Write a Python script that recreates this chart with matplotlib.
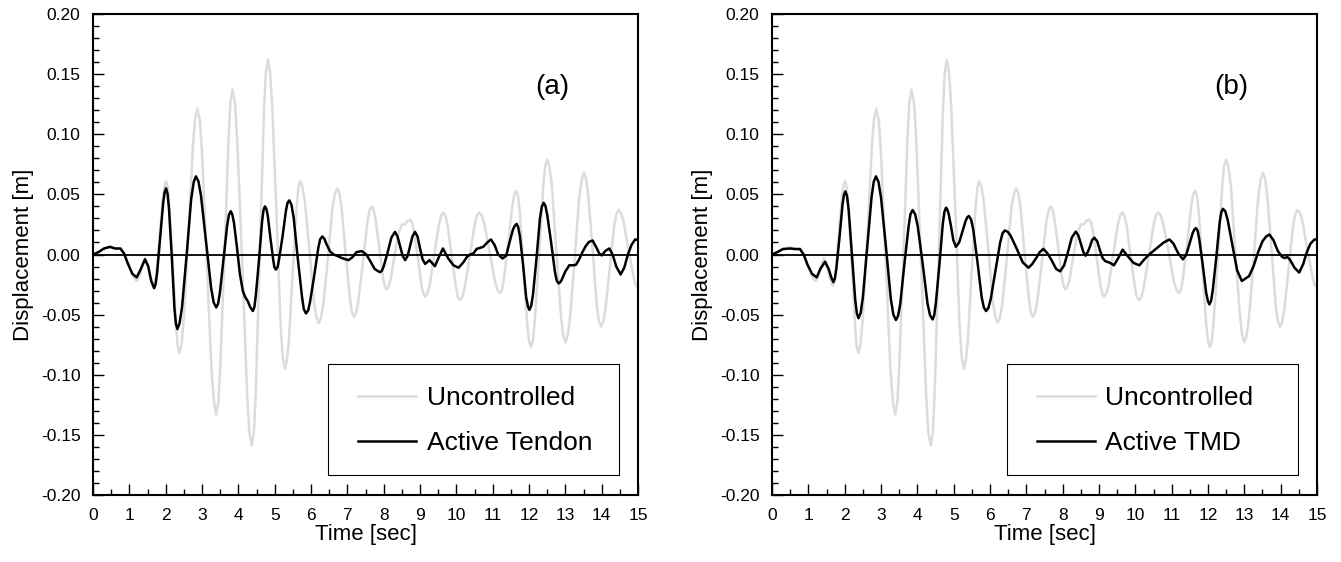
import matplotlib
matplotlib.use("Agg")
import matplotlib.pyplot as plt
from matplotlib.patches import Rectangle
from matplotlib.ticker import MultipleLocator, FormatStrFormatter

plt.rcParams['font.family'] = ['Liberation Sans', 'DejaVu Sans']

# uncontrolled response (same in both panels)
t_unc = [0.00, 0.15, 0.30, 0.50, 0.65, 0.78, 0.90, 1.02, 1.12, 1.20, 1.28, 1.36, 1.43, 1.50, 1.58, 1.67,
         1.71, 1.755, 1.84, 1.925, 1.97, 2.01, 2.06, 2.10, 2.20, 2.29, 2.33, 2.38,
         2.44, 2.50, 2.63, 2.75, 2.81, 2.87, 2.94, 3.00, 3.13, 3.26, 3.33, 3.39,
         3.45, 3.50, 3.62, 3.73, 3.78, 3.84, 3.91, 3.97, 4.11, 4.24, 4.30, 4.37,
         4.43, 4.48, 4.59, 4.70, 4.75, 4.81, 4.87, 4.93, 5.05, 5.16, 5.22, 5.28,
         5.33, 5.39, 5.49, 5.60, 5.65, 5.70, 5.76, 5.83, 5.96, 6.08, 6.15, 6.21,
         6.27, 6.34, 6.47, 6.59, 6.66, 6.72, 6.78, 6.84, 6.95, 7.07, 7.12, 7.18,
         7.24, 7.30, 7.43, 7.55, 7.61, 7.67, 7.72, 7.77, 7.88, 7.98, 8.03, 8.08,
         8.13, 8.19, 8.29, 8.40, 8.50, 8.58, 8.66, 8.73, 8.78, 8.83, 8.94, 9.04, 9.09, 9.14,
         9.20, 9.27, 9.39, 9.52, 9.58, 9.64, 9.70, 9.76, 9.87, 9.99, 10.04, 10.10,
         10.17, 10.23, 10.37, 10.50, 10.56, 10.63, 10.70, 10.77, 10.92, 11.06, 11.13, 11.20,
         11.26, 11.31, 11.43, 11.54, 11.59, 11.65, 11.70, 11.75, 11.85, 11.95, 12.00, 12.05,
         12.11, 12.16, 12.28, 12.39, 12.44, 12.50, 12.56, 12.63, 12.75, 12.88, 12.94, 13.00,
         13.06, 13.13, 13.26, 13.38, 13.45, 13.51, 13.57, 13.63, 13.75, 13.86, 13.92, 13.98,
         14.04, 14.10, 14.22, 14.34, 14.40, 14.46, 14.53, 14.60, 14.73, 14.87, 14.93, 15.00]
d_unc = [0.000, 0.002, 0.005, 0.006, 0.005, 0.005, -0.002, -0.012, -0.019, -0.022, -0.018, -0.008, -0.003, -0.008, -0.019, -0.026,
         -0.0227, -0.013, 0.0175, 0.048, 0.0577, 0.061, 0.0556, 0.040, -0.0105, -0.061, -0.0766, -0.082,
         -0.0743, -0.052, 0.0195, 0.091, 0.1133, 0.121, 0.1113, 0.084, -0.006, -0.096, -0.1233, -0.133,
         -0.1227, -0.094, 0.002, 0.098, 0.1267, 0.137, 0.1258, 0.094, -0.011, -0.116, -0.1478, -0.159,
         -0.1468, -0.112, 0.0015, 0.115, 0.1498, 0.162, 0.1522, 0.1245, 0.0335, -0.0575, -0.0852, -0.095,
         -0.0891, -0.072, -0.017, 0.038, 0.0551, 0.061, 0.0565, 0.044, 0.002, -0.040, -0.0525, -0.057,
         -0.0527, -0.041, -0.001, 0.039, 0.0507, 0.055, 0.0509, 0.039, 0.0015, -0.036, -0.0479, -0.052,
         -0.0485, -0.039, -0.006, 0.027, 0.0365, 0.040, 0.0374, 0.030, 0.0055, -0.019, -0.0264, -0.029,
         -0.0269, -0.021, -0.002, 0.017, 0.025, 0.025, 0.028, 0.029, 0.0266, 0.0197, -0.003, -0.0257, -0.0326, -0.035,
         -0.0323, -0.0248, 0.000, 0.0248, 0.0323, 0.035, 0.0322, 0.0243, -0.0015, -0.0273, -0.0352, -0.038,
         -0.0352, -0.0273, -0.0015, 0.0243, 0.0322, 0.035, 0.0325, 0.0252, 0.0015, -0.0222, -0.0295, -0.032,
         -0.0288, -0.0196, 0.0105, 0.0406, 0.0498, 0.053, 0.0481, 0.034, -0.012, -0.058, -0.0721, -0.077,
         -0.0711, -0.054, 0.001, 0.056, 0.0731, 0.079, 0.0732, 0.057, 0.003, -0.051, -0.0672, -0.073,
         -0.0676, -0.052, -0.0025, 0.047, 0.0626, 0.068, 0.0631, 0.049, 0.004, -0.041, -0.0551, -0.060,
         -0.0563, -0.046, -0.0115, 0.023, 0.0333, 0.037, 0.0346, 0.0277, 0.005, -0.0177, -0.025, -0.027]

# (a) active tendon
t_ten = [0.00, 0.15, 0.30, 0.47, 0.60, 0.75, 0.85, 0.95, 1.08, 1.20, 1.30, 1.43, 1.52, 1.60, 1.68,
         1.72, 1.76, 1.845, 1.93, 1.97, 2.01, 2.05, 2.09, 2.17, 2.24, 2.28, 2.32, 2.38, 2.45, 2.58, 2.70, 2.77, 2.83,
         2.90, 2.97, 3.11, 3.25, 3.32, 3.39, 3.44, 3.49, 3.59, 3.69, 3.74, 3.79, 3.835, 3.88, 3.96, 4.04, 4.12,
         4.18, 4.26, 4.33, 4.40, 4.44, 4.48, 4.57, 4.65, 4.69, 4.73, 4.77, 4.81, 4.88, 4.96, 4.99, 5.03, 5.08,
         5.12, 5.22, 5.31, 5.35, 5.40, 5.46, 5.52, 5.63, 5.75, 5.80, 5.86, 5.92, 5.97, 6.09, 6.20, 6.25, 6.31, 6.37,
         6.42, 6.52, 6.62, 6.71, 6.85, 7.03, 7.15, 7.25, 7.40, 7.52, 7.62, 7.75, 7.84, 7.90, 7.95, 8.00, 8.11, 8.21,
         8.31, 8.38, 8.45, 8.52, 8.59, 8.66, 8.725, 8.79, 8.86, 8.93, 9.00, 9.07, 9.14, 9.26, 9.41, 9.52, 9.63,
         9.78, 9.92, 10.06, 10.18, 10.29, 10.38, 10.47, 10.56, 10.65, 10.74, 10.85, 10.95, 11.05, 11.15, 11.27,
         11.37, 11.47, 11.56, 11.61, 11.66, 11.70, 11.75, 11.84, 11.92, 11.97, 12.01, 12.06, 12.11, 12.21, 12.30,
         12.35, 12.40, 12.45, 12.50, 12.61, 12.71, 12.76, 12.81, 12.855, 12.90, 13.00, 13.11, 13.20, 13.29, 13.38,
         13.47, 13.56, 13.65, 13.75, 13.85, 13.93, 14.00, 14.10, 14.21, 14.30, 14.40, 14.52, 14.62, 14.72, 14.82,
         14.92, 15.00]
d_ten = [0.000, 0.002, 0.005, 0.0064, 0.005, 0.005, 0.001, -0.007, -0.016, -0.019, -0.013, -0.004, -0.010, -0.022, -0.028,
         -0.0248, -0.016, 0.0135, 0.043, 0.0518, 0.055, 0.0506, 0.038, -0.0035, -0.045, -0.0576, -0.062, -0.0572, -0.0435, 0.0015, 0.046, 0.0602, 0.065,
         0.0609, 0.049, 0.0105, -0.028, -0.0399, -0.044, -0.041, -0.032, -0.004, 0.024, 0.033, 0.036, 0.033, 0.026, 0.006, -0.016, -0.030,
         -0.035, -0.039, -0.044, -0.047, -0.0437, -0.034, -0.0035, 0.027, 0.0367, 0.040, 0.038, 0.032, 0.014, -0.0048, -0.0105, -0.0125, -0.0103,
         -0.004, 0.016, 0.0366, 0.0428, 0.045, 0.0414, 0.031, -0.002, -0.035, -0.0454, -0.049, -0.0466, -0.0397, -0.017, 0.0057, 0.0126, 0.015, 0.0128,
         0.009, 0.0027, 0.000, -0.001, -0.003, -0.0047, -0.002, 0.002, 0.0028, 0.000, -0.005, -0.012, -0.0138, -0.0147, -0.0135, -0.0098, 0.002, 0.014,
         0.0188, 0.015, 0.007, -0.001, -0.0047, -0.001, 0.007, 0.015, 0.0188, 0.015, 0.005, -0.004, -0.0078, -0.0047, -0.0097, -0.002, 0.005,
         -0.0035, -0.009, -0.011, -0.007, -0.002, 0.000, 0.001, 0.0047, 0.0055, 0.0064, 0.010, 0.0125, 0.008, 0.000, -0.0033,
         -0.001, 0.011, 0.021, 0.024, 0.0255, 0.0228, 0.015, -0.010, -0.0356, -0.0433, -0.046, -0.0426, -0.033, -0.0015, 0.030,
         0.0396, 0.043, 0.0405, 0.033, 0.0095, -0.014, -0.0215, -0.024, -0.0232, -0.021, -0.014, -0.0089, -0.009, -0.0086, -0.004,
         0.002, 0.007, 0.0105, 0.0116, 0.006, 0.001, -0.0008, 0.003, 0.005, 0.000, -0.010, -0.0166, -0.011, 0.000, 0.008,
         0.0125, 0.012]

# (b) active TMD
t_tmd = [0.00, 0.15, 0.30, 0.50, 0.65, 0.77, 0.87, 0.97, 1.10, 1.23, 1.33, 1.46, 1.56, 1.63, 1.69,
         1.73, 1.77, 1.86, 1.94, 1.98, 2.02, 2.065, 2.11, 2.20, 2.29, 2.335, 2.38, 2.44, 2.50, 2.62, 2.74, 2.80, 2.86,
         2.93, 3.00, 3.14, 3.27, 3.34, 3.41, 3.47, 3.53, 3.64, 3.76, 3.81, 3.87, 3.94, 4.01, 4.15, 4.28, 4.35, 4.42,
         4.465, 4.51, 4.61, 4.70, 4.745, 4.79, 4.825, 4.86, 4.93, 4.99, 5.06, 5.15, 5.24, 5.33, 5.375, 5.42, 5.48,
         5.54, 5.66, 5.77, 5.83, 5.89, 5.955, 6.02, 6.15, 6.28, 6.345, 6.41, 6.49, 6.57, 6.74, 6.90, 7.06,
         7.16, 7.27, 7.37, 7.47, 7.58, 7.70, 7.82, 7.93, 8.04, 8.15, 8.25, 8.36,
         8.43, 8.50, 8.57, 8.63, 8.69, 8.75, 8.81, 8.87, 8.95, 9.02, 9.10, 9.17,
         9.31, 9.41, 9.53, 9.65, 9.78, 9.95, 10.11, 10.25, 10.38, 10.50, 10.62, 10.78, 10.94,
         11.05, 11.18, 11.31, 11.40, 11.49, 11.58, 11.625, 11.67, 11.715, 11.76, 11.86, 11.95, 12.00, 12.04,
         12.085, 12.13, 12.23, 12.32, 12.365, 12.41, 12.475, 12.54, 12.67, 12.80, 12.93, 13.03, 13.13, 13.25, 13.38,
         13.50, 13.60, 13.69, 13.80, 13.92, 14.04, 14.12, 14.18, 14.25, 14.38, 14.51,
         14.62, 14.72, 14.82, 14.93, 15.00]
d_tmd = [0.000, 0.002, 0.0045, 0.005, 0.0045, 0.0045, 0.000, -0.008, -0.016, -0.019, -0.012, -0.006, -0.012, -0.019, -0.023,
         -0.020, -0.012, 0.015, 0.0415, 0.0496, 0.0525, 0.0485, 0.037, 0.000, -0.0376, -0.049, -0.053, -0.0485, -0.0358, 0.006, 0.0478, 0.0605, 0.065,
         0.0605, 0.0475, 0.005, -0.037, -0.050, -0.0545, -0.051, -0.041, -0.009, 0.0236, 0.0335, 0.037, 0.0335, 0.0237, -0.0085, -0.0407, -0.0506, -0.054,
         -0.0505, -0.0404, -0.0075, 0.0254, 0.0355, 0.039, 0.0375, 0.034, 0.023, 0.012, 0.0064, 0.010, 0.019, 0.028, 0.031, 0.032, 0.029,
         0.0205, -0.0075, -0.0355, -0.044, -0.047, -0.0445, -0.037, -0.0135, 0.010, 0.0177, 0.020, 0.0188, 0.0155, 0.0045, -0.0065, -0.011,
         -0.008, -0.003, 0.002, 0.0047, 0.001, -0.005, -0.012, -0.014, -0.009, 0.0025, 0.014, 0.019,
         0.016, 0.009, 0.002, -0.001, 0.002, 0.0065, 0.012, 0.014, 0.011, 0.004, -0.003, -0.0055,
         -0.007, -0.009, -0.003, 0.004, -0.001, -0.007, -0.009, -0.004, 0.000, 0.003, 0.006, 0.010, 0.0125,
         0.009, 0.001, -0.004, -0.0003, 0.009, 0.018, 0.0208, 0.022, 0.0197, 0.0127, -0.0098, -0.032, -0.039, -0.0415,
         -0.0385, -0.0299, -0.0018, 0.0264, 0.035, 0.038, 0.036, 0.029, 0.008, -0.013, -0.022, -0.020, -0.018, -0.010, 0.002,
         0.011, 0.015, 0.0166, 0.012, 0.003, -0.002, -0.003, -0.002, -0.004, -0.011, -0.015,
         -0.008, 0.002, 0.009, 0.0125, 0.0125]

panels = [
    (t_ten, d_ten, 'Active Tendon', '(a)'),
    (t_tmd, d_tmd, 'Active TMD', '(b)'),
]

fig = plt.figure(figsize=(13.41, 5.62), dpi=100)
lefts = [0.0694, 0.5757]

for left, (t_ctl, d_ctl, name, tag) in zip(lefts, panels):
    ax = fig.add_axes([left, 0.1192, 0.4064, 0.8559])
    ax.plot(t_unc, d_unc, color='#dcdcdc', lw=1.8, label='Uncontrolled', zorder=2,
            solid_joinstyle='round')
    ax.axhline(0, color='black', lw=1.3, zorder=3)
    ax.plot(t_ctl, d_ctl, color='black', lw=1.8, label=name, zorder=4, solid_joinstyle='round')

    ax.set_xlim(0, 15)
    ax.set_ylim(-0.2, 0.2)
    ax.xaxis.set_major_locator(MultipleLocator(1))
    ax.xaxis.set_minor_locator(MultipleLocator(0.5))
    ax.yaxis.set_major_locator(MultipleLocator(0.05))
    ax.yaxis.set_minor_locator(MultipleLocator(0.01))
    ax.yaxis.set_major_formatter(FormatStrFormatter('%.2f'))
    ax.tick_params(which='both', direction='in', top=False, right=False, width=1.0, labelsize=12.5)
    ax.tick_params(which='major', length=8, pad=9)
    ax.tick_params(which='minor', length=4.5)
    for sp in ax.spines.values():
        sp.set_linewidth(1.5)

    ax.set_xlabel('Time [sec]', fontsize=16, labelpad=1)
    ax.set_ylabel('Displacement [m]', fontsize=16, labelpad=5)
    ax.text(0.842, 0.848, tag, transform=ax.transAxes, fontsize=20, ha='center', va='center')

    # legend box drawn separately so the entries can sit further in
    box = Rectangle((0.431, 0.042), 0.534, 0.23, transform=ax.transAxes,
                    facecolor='white', edgecolor='black', lw=0.8, zorder=4.5)
    ax.add_patch(box)
    leg = ax.legend(loc='upper left', bbox_to_anchor=(0.486, 0.226), borderaxespad=0,
                    frameon=False, fontsize=19, handlelength=2.2, handletextpad=0.4,
                    borderpad=0, labelspacing=0.8)
    leg.set_zorder(5)

fig.savefig('out.png', dpi=100)
